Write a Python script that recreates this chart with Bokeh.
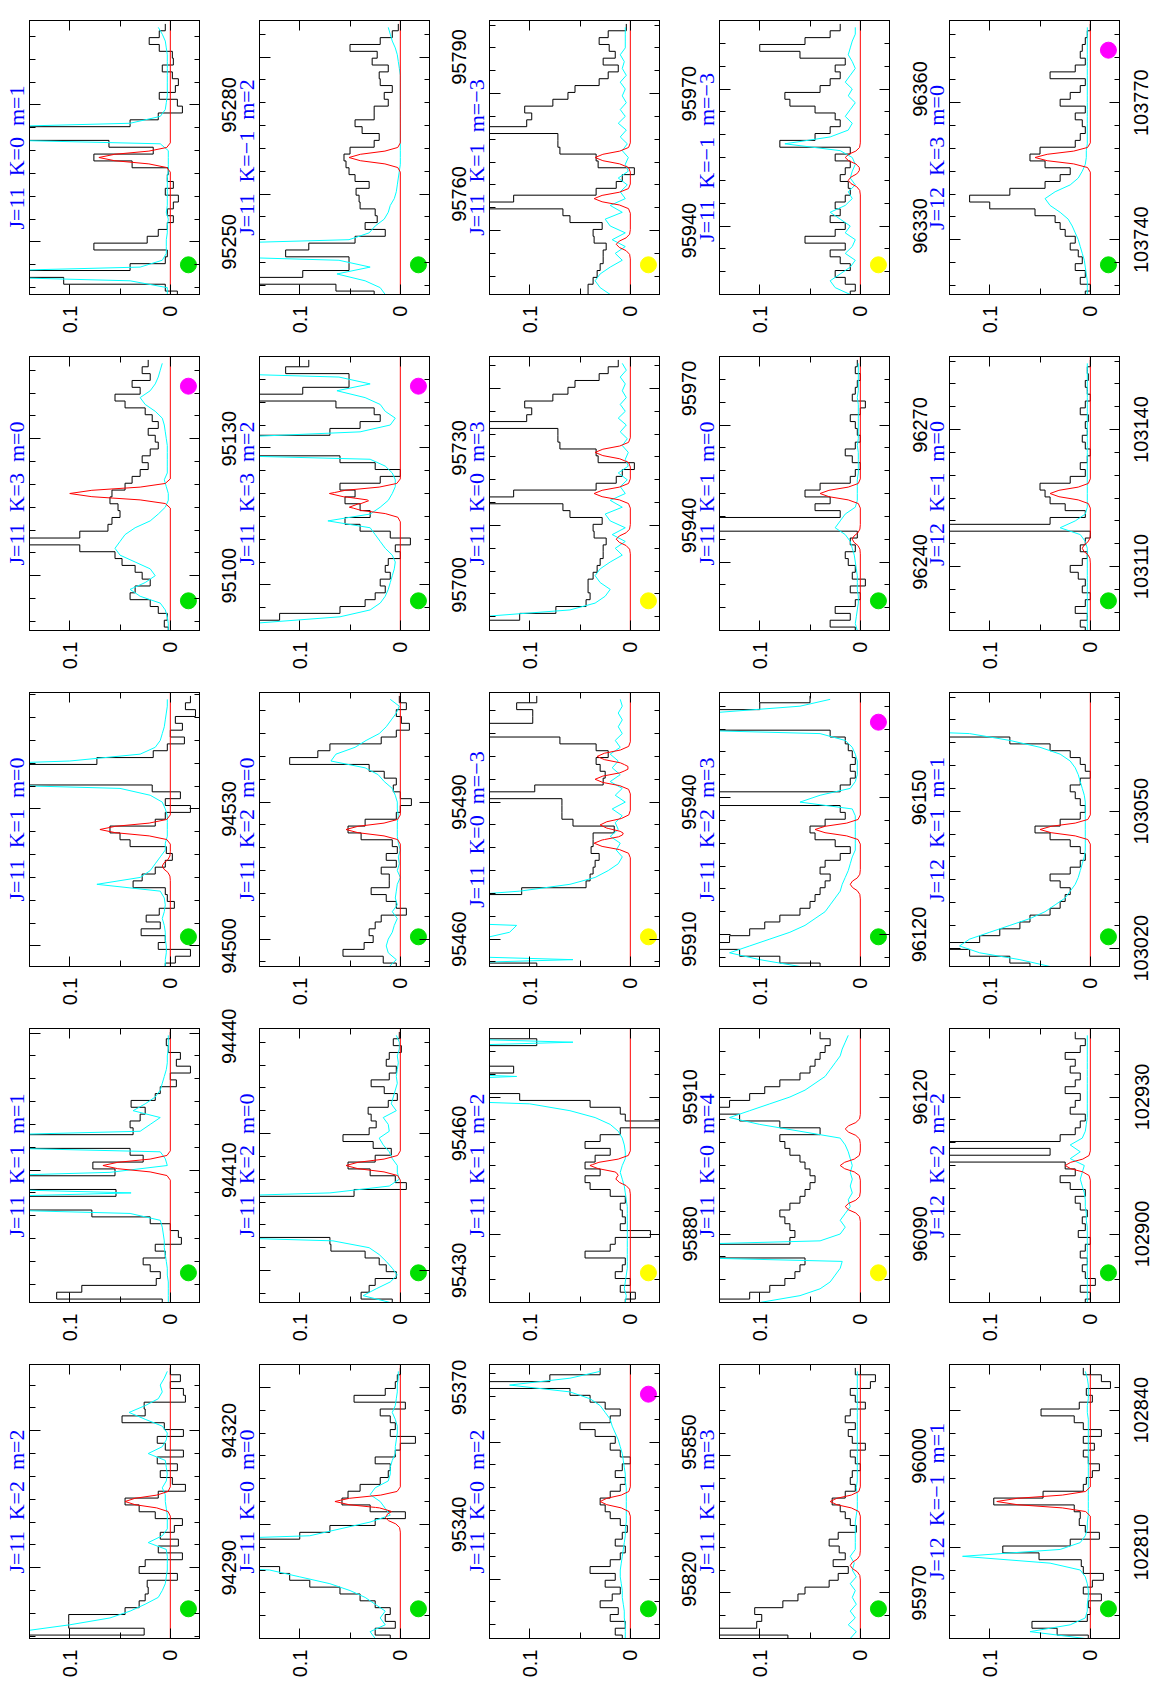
import math
import numpy as np
from bokeh.plotting import figure
from bokeh.models import Range1d, LinearAxis, FixedTicker, Title, NumeralTickFormatter
from bokeh.layouts import row, column
from bokeh.embed import file_html
from bokeh.resources import INLINE

# ---------------------------------------------------------------- data
CHANNEL_MHZ = 1.5      # spectral channel width
SCALE = 0.001          # intensities below are listed in units of 0.001
NB = "\u00a0"

# rows top -> bottom, columns left -> right
panel_labels = [
    ["J=11 K=0 m=1", "J=11 K=\u22121 m=2", "J=11 K=1 m=\u22123", "J=11 K=\u22121 m=\u22123", "J=12 K=3 m=0"],
    ["J=11 K=3 m=0", "J=11 K=3 m=2", "J=11 K=0 m=3", "J=11 K=1 m=0", "J=12 K=1 m=0"],
    ["J=11 K=1 m=0", "J=11 K=2 m=0", "J=11 K=0 m=\u22123", "J=11 K=2 m=3", "J=12 K=1 m=1"],
    ["J=11 K=1 m=1", "J=11 K=2 m=0", "J=11 K=1 m=2", "J=11 K=0 m=4", "J=12 K=2 m=2"],
    ["J=11 K=2 m=2", "J=11 K=0 m=0", "J=11 K=0 m=2", "J=11 K=1 m=3", "J=12 K=\u22121 m=1"],
]
centre_freq = [
    [95268.5, 95768.0, 95956.0, 96345.0, 103758.0],
    [95118.0, 95720.0, 95947.0, 96255.0, 103126.0],
    [94525.5, 95484.0, 95934.0, 96143.0, 103046.0],
    [94411.0, 95453.0, 95895.0, 96105.0, 102915.0],
    [94304.5, 95345.0, 95837.0, 95990.0, 102820.0],
]
freq_tick_labels = [
    [(95250, 95280), (95760, 95790), (95940, 95970), (96330, 96360), (103740, 103770)],
    [(95100, 95130), (95700, 95730), (95940, 95970), (96240, 96270), (103110, 103140)],
    [(94500, 94530), (95460, 95490), (95910, 95940), (96120, 96150), (103020, 103050)],
    [(94410, 94440), (95430, 95460), (95880, 95910), (96090, 96120), (102900, 102930)],
    [(94290, 94320), (95340, 95370), (95820, 95850), (95970, 96000), (102810, 102840)],
]
intensity_ticks = [0.0, 0.1]
intensity_minor = [0.05]

bottom_dot = [
    ["#00e000", "#00e000", "#ffff00", "#ffff00", "#00e000"],
    ["#00e000", "#00e000", "#ffff00", "#00e000", "#00e000"],
    ["#00e000", "#00e000", "#ffff00", "#00e000", "#00e000"],
    ["#00e000", "#00e000", "#ffff00", "#ffff00", "#00e000"],
    ["#00e000", "#00e000", "#00e000", "#00e000", "#00e000"],
]
top_dot = [
    [None, None, None, None, "#ff00ff"],
    ["#ff00ff", "#ff00ff", None, None, None],
    [None, None, None, "#ff00ff", None],
    [None, None, None, None, None],
    [None, None, "#ff00ff", None, None],
]

# normalised shape of a model line (offset in MHz, relative height)
red_shape_offset = [-3.2, -2.2, -1.4, -0.7, 0.0, 0.7, 1.4, 2.2, 3.2]
red_shape_value = [0.0, 0.05, 0.3, 0.78, 1.0, 0.78, 0.3, 0.05, 0.0]

# observed spectra (black), 40 channels from low to high frequency
obs_r1c1 = [-7, 5, 106, 300, 40, 5, 3, 76, 23, 12, 3, -3, 3, -3, -8, 5, -3, 3, 2, 38,
            76, 17, 61, 300, 300, 40, 12, -12, -7, 11, -5, -8, -2, 8, -3, -2, 11, 21, 11, 5]
obs_r2c1 = [2, 6, 3, 12, 20, 40, 35, 20, 28, 35, 48, 55, 90, 300, 90, 62, 58, 50, 52, 60,
            58, 45, 38, 30, 22, 28, 20, 12, 15, 22, 12, 18, 25, 45, 55, 30, 38, 20, 28, 22]
obs_r3c1 = [5, -5, -20, 12, 5, 29, 10, 24, 11, -4, 3, 5, 37, 28, 15, 5, -2, 4, 40, 50,
            60, 15, 5, -20, 5, -10, 18, 300, 300, 300, 73, 17, 3, -14, 0, -12, -5, -25, -15, -20]
obs_r4c1 = [8, 113, 88, 14, 10, 20, 27, 5, 15, -11, -8, 0, 20, 78, 300, 300, 54, 300, 300, 55,
            77, 27, 40, 300, 300, 37, 40, 30, 25, 39, 15, 10, -6, 0, -20, -6, -10, 2, 4, 0]
obs_r5c1 = [300, 26, 101, 101, 45, 31, 25, 22, 23, -7, 31, 25, -12, 12, -8, 10, -4, -12, 15, 31,
            45, 12, -15, -2, 10, -7, 13, -13, 5, 13, -13, 6, 48, 25, 26, -15, -13, 0, -10, 0]
obs_r1c2 = [26, 64, 300, 97, 51, 51, 114, 91, 45, 15, 35, 23, 25, 40, 41, 44, 31, 45, 51, 54,
            56, 50, 26, 21, 38, 45, 26, 26, 12, 16, 8, 20, 21, 12, 28, 23, 50, 20, 8, 2]
obs_r2c2 = [300, 300, 120, 60, 35, 25, 15, 20, 10, 15, 12, 0, 5, -10, 10, 40, 55, 30, 40, 55,
            45, 60, 20, 0, 25, 60, 300, 300, 300, 70, 40, 20, 26, 64, 300, 97, 51, 51, 114, 91]
obs_r3c2 = [4, 17, 57, 36, 27, 31, 25, 19, -6, 4, 14, 29, 11, 11, 19, 4, 14, 3, 8, 39,
            52, 35, 4, 0, -11, 0, 7, 4, 16, 31, 110, 82, 70, 19, 4, -9, -1, 4, -6, 1]
obs_r4c2 = [8, 39, 31, 25, 4, 14, 21, 35, 69, 70, 300, 300, 300, 300, 300, 300, 46, -6, 5, 30,
            52, 25, 9, 27, 57, 31, 24, 29, 32, 12, 3, 16, 29, 11, 4, 14, 11, -1, 7, 1]
obs_r5c2 = [10, 25, 5, 15, 10, 25, 40, 60, 90, 110, 120, 300, 300, 300, 300, 100, 70, 25, -5, 30,
            58, 52, 40, 20, 12, 10, 25, 5, 0, -15, 10, 5, 10, 20, -5, 46, 15, 5, 3, 0]
obs_r1c3 = [42, 42, 37, 33, 30, 27, 27, 24, 36, 37, 28, 60, 67, 300, 116, 34, 14, 8, -4, 32,
            34, 70, 72, 72, 300, 103, 98, 105, 77, 62, 55, 31, 22, 12, 27, 15, 21, 31, 22, 4]
obs_r2c3 = [300, 300, 110, 74, 44, 40, 42, 42, 37, 33, 30, 27, 27, 24, 36, 37, 28, 60, 67, 300,
            116, 34, 14, 8, -4, 32, 34, 70, 72, 72, 300, 103, 98, 105, 77, 62, 55, 31, 22, 12]
obs_r3c3 = [93, 300, 300, 300, 300, 300, 300, 300, 300, 300, 300, 108, 44, 40, 37, 35, 31, 39, 37, 37,
            16, 57, 68, 68, 68, 300, 95, 27, 25, 30, 34, 22, 34, 70, 300, 300, 97, 97, 113, 93]
obs_r4c3 = [5, -5, 10, 0, 15, 8, 5, 45, 20, 15, -20, 10, 5, 8, 10, 5, 20, 40, 45, 30,
            45, 35, 20, 45, 30, 10, -30, 5, 10, 40, 110, 300, 300, 300, 116, 300, 300, 300, 93, 300]
obs_r5c3 = [8, 15, 5, 20, 12, 30, 18, 10, 25, 15, 40, 20, 10, 5, 15, 8, 3, 10, 20, 25,
            30, 20, 10, 5, 15, 8, 0, 10, 20, 15, 35, 50, 20, 10, 25, 40, 60, 300, 80, 30]
obs_r1c4 = [10, 5, 15, 25, 10, 20, 30, 15, 55, 25, 15, 30, 20, 25, 15, 10, 12, 20, 15, 10,
            25, 10, 80, 45, 30, 20, 25, 45, 70, 75, 40, 30, 20, 25, 15, 60, 100, 55, 30, 20]
obs_r2c4 = [5, 30, 10, 25, 5, 0, 10, -5, 8, 5, 12, 15, 5, 10, 3, 300, 300, 20, 45, 30,
            55, 40, 10, 5, 0, 8, 15, 5, 0, 3, 5, 10, 0, -5, 8, 5, 3, 0, 5, 3]
obs_r3c4 = [40, 80, 120, 140, 130, 110, 95, 80, 60, 50, 45, 40, 35, 30, 40, 35, 20, 10, 25, 45,
            50, 35, 15, 20, 300, 300, 20, 10, 5, 10, 5, 8, 12, 15, 30, 300, 300, 200, 100, 50]
obs_r4c4 = [300, 110, 90, 75, 65, 60, 55, 300, 300, 70, 65, 70, 75, 80, 70, 60, 55, 50, 45, 50,
            55, 60, 70, 75, 80, 40, 80, 120, 140, 130, 110, 95, 80, 60, 50, 45, 40, 35, 30, 40]
obs_r5c4 = [72, 300, 103, 98, 105, 77, 62, 55, 31, 22, 12, 27, 15, 21, 31, 22, 4, 10, 15, 20,
            28, 15, 5, 10, 8, 0, 5, 10, -5, 8, 12, 5, 15, 10, -5, 5, 10, -10, -15, 5]
obs_r1c5 = [5, 0, 10, 5, 15, 8, 12, 20, 15, 25, 30, 35, 55, 100, 120, 80, 45, 30, 20, 45,
            60, 50, 15, 10, 5, 8, 15, 5, 30, 20, 10, 5, 40, 15, 5, 10, 8, 5, 3, 0]
obs_r2c5 = [5, 10, 3, 15, 5, 0, 8, 5, 12, 20, 8, 3, 10, 5, 0, 300, 40, 5, 25, 40,
            45, 50, 20, 5, 10, 3, 0, 5, 8, 3, 5, 2, 10, 5, 0, 3, 5, 2, 3, 0]
obs_r3c5 = [60, 80, 120, 140, 110, 90, 70, 60, 40, 30, 25, 20, 30, 40, 20, 10, 5, 10, 20, 40,
            55, 30, 10, 5, 10, 15, 20, 10, 0, 5, 10, 20, 40, 80, 300, 300, 300, 300, 300, 300]
obs_r4c5 = [5, 0, 10, -5, 5, 8, 3, 10, 5, 0, 12, 5, 8, 3, 10, 15, 5, 20, 30, 15,
            25, 300, 40, 300, 30, 15, 10, 5, 20, 15, 10, 25, 15, 10, 20, 15, 25, 10, 5, 15]
obs_r5c5 = [2, 33, 58, 3, 0, 2, -11, 7, -2, -13, 7, 9, 51, 87, 20, -9, 5, 11, 10, 16,
            96, 47, 7, 4, -2, -9, 2, 7, -4, 7, -11, 7, 16, 49, 11, -2, 4, -20, -11, 7]

# full model (cyan), same channels
mod_r1c1 = [3, 3, 40, 300, 30, 8, 4, 4, 4, 3, 3, 2, 4, 3, 3, 3, 3, 3, 2, 2,
            2, 2, 10, 300, 300, 40, 10, 5, 4, 3, 3, 3, 3, 3, 3, 3, 4, 5, 8, 12]
mod_r2c1 = [2, 2, 3, 5, 10, 30, 40, 25, 15, 20, 35, 50, 55, 50, 45, 35, 20, 12, 5, 2,
            2, 4, 6, 3, 3, 3, 3, 3, 4, 5, 6, 8, 15, 25, 30, 20, 15, 12, 10, 8]
mod_r3c1 = [5, 5, 4, 4, 5, 5, 6, 8, 6, 5, 6, 10, 73, 30, 20, 15, 10, 5, 5, 3,
            3, 3, 3, 5, 8, 20, 50, 300, 300, 300, 100, 30, 15, 10, 8, 6, 5, 4, 3, 3]
mod_r4c1 = [2, 2, 2, 2, 3, 3, 4, 5, 6, 6, 7, 8, 10, 40, 300, 300, 39, 300, 300, 60,
            3, 5, 10, 300, 300, 30, 20, 10, 37, 25, 15, 10, 8, 6, 4, 3, 3, 2, 2, 2]
mod_r5c1 = [300, 150, 100, 60, 40, 25, 12, 8, 5, 4, 3, 3, 3, 4, 22, 8, 3, 3, 3, 4,
            5, 5, 8, 4, 3, 4, 5, 22, 8, 4, 3, 8, 25, 41, 25, 12, 8, 10, 6, 3]
mod_r1c2 = [15, 20, 35, 63, 30, 61, 300, 300, 51, 31, 25, 16, 12, 10, 6, 4, 3, 2, 1, 0,
            0, 0, 0, 0, 0, 0, 0, 0, 0, 0, 0, 0, 0, 1, 2, 3, 5, 8, 10, 12]
mod_r2c2 = [300, 150, 60, 30, 20, 15, 12, 10, 8, 6, 5, 8, 15, 20, 25, 30, 72, 30, 20, 12,
            8, 5, 5, 8, 15, 30, 300, 300, 200, 40, 10, 5, 15, 20, 35, 63, 30, 61, 300, 300]
mod_r3c2 = [11, 4, 12, 14, 12, 8, 6, 3, 8, 3, 5, 4, 3, 0, 3, 1, 2, 0, 2, 3,
            3, 3, 2, 3, 3, 5, 8, 16, 22, 35, 69, 64, 45, 34, 21, 14, 9, 4, 1, 10]
mod_r4c2 = [10, 37, 24, 10, 3, 8, 14, 21, 31, 67, 300, 300, 300, 300, 300, 300, 70, 11, 1, 3,
            3, 8, 11, 17, 21, 11, 12, 17, 4, 9, 7, 5, 3, 4, 3, 2, 3, 1, 1, 4]
mod_r5c2 = [25, 30, 15, 20, 15, 25, 35, 50, 70, 100, 130, 300, 300, 300, 300, 90, 60, 30, 10, 15,
            20, 30, 25, 12, 10, 10, 8, 5, 5, 4, 3, 3, 5, 8, 5, 4, 3, 3, 2, 2]
mod_r1c3 = [20, 30, 35, 30, 20, 8, 15, 5, 18, 5, 20, 25, 8, 20, 5, 10, 3, 12, 2, 5,
            2, 8, 3, 10, 4, 12, 5, 10, 4, 8, 5, 10, 4, 8, 6, 10, 5, 5, 5, 5]
mod_r2c3 = [300, 300, 150, 60, 35, 25, 20, 30, 35, 30, 20, 8, 15, 5, 18, 5, 20, 25, 8, 20,
            5, 10, 3, 12, 2, 5, 2, 8, 3, 10, 4, 12, 5, 10, 4, 8, 5, 10, 4, 8]
mod_r3c3 = [300, 57, 300, 300, 150, 120, 113, 300, 300, 300, 200, 110, 60, 35, 22, 12, 8, 14, 10, 20,
            12, 15, 8, 18, 5, 15, 8, 20, 10, 18, 12, 20, 10, 15, 8, 12, 8, 12, 8, 10]
mod_r4c3 = [5, 4, 6, 5, 4, 3, 3, 3, 3, 3, 3, 3, 3, 3, 3, 4, 5, 6, 8, 10,
            8, 5, 5, 6, 8, 12, 20, 35, 60, 100, 300, 300, 300, 113, 300, 300, 300, 300, 57, 300]
mod_r5c3 = [5, 5, 5, 6, 6, 7, 8, 8, 9, 10, 10, 9, 8, 7, 6, 5, 5, 4, 4, 4,
            4, 4, 4, 5, 5, 6, 7, 8, 10, 12, 15, 18, 20, 25, 30, 40, 60, 120, 60, 30]
mod_r1c4 = [10, 25, 30, 20, 10, 5, 15, 8, 5, 15, 10, 20, 30, 15, 8, 12, 5, 10, 8, 5,
            8, 20, 75, 30, 12, 8, 15, 10, 5, 12, 8, 15, 10, 5, 8, 12, 10, 8, 5, 5]
mod_r2c4 = [3, 5, 4, 3, 2, 2, 3, 3, 3, 4, 5, 6, 8, 10, 15, 25, 20, 15, 5, 3,
            3, 3, 3, 2, 2, 2, 2, 3, 2, 2, 2, 2, 2, 2, 3, 2, 2, 2, 2, 2]
mod_r3c4 = [60, 100, 130, 110, 90, 70, 55, 45, 35, 30, 25, 20, 18, 15, 12, 10, 8, 5, 5, 5,
            5, 5, 5, 8, 60, 40, 10, 5, 3, 3, 3, 5, 8, 15, 40, 300, 300, 150, 60, 30]
mod_r4c4 = [100, 60, 40, 30, 25, 20, 18, 300, 300, 40, 20, 15, 20, 15, 10, 12, 8, 10, 8, 10,
            8, 10, 12, 15, 20, 60, 100, 130, 110, 90, 70, 55, 45, 35, 30, 25, 20, 18, 15, 12]
mod_r5c4 = [10, 4, 12, 5, 10, 4, 8, 5, 10, 4, 8, 6, 10, 5, 5, 5, 5, 5, 4, 3,
            3, 3, 4, 3, 3, 3, 3, 3, 3, 3, 3, 3, 3, 3, 3, 3, 3, 3, 3, 3]
mod_r1c5 = [3, 3, 3, 4, 5, 6, 8, 10, 12, 15, 18, 22, 30, 40, 45, 35, 20, 12, 8, 5,
            4, 4, 3, 3, 3, 3, 3, 3, 3, 3, 3, 3, 3, 3, 3, 3, 3, 3, 3, 3]
mod_r2c5 = [3, 3, 3, 3, 3, 3, 3, 3, 3, 3, 3, 3, 3, 5, 10, 30, 15, 5, 3, 3,
            3, 3, 3, 3, 3, 3, 3, 3, 3, 3, 3, 3, 3, 3, 3, 3, 3, 3, 3, 3]
mod_r3c5 = [40, 70, 110, 130, 120, 100, 80, 60, 45, 35, 25, 20, 15, 12, 10, 8, 6, 5, 5, 5,
            5, 5, 5, 5, 5, 6, 8, 10, 12, 15, 20, 30, 50, 80, 120, 300, 300, 300, 300, 300]
mod_r4c5 = [3, 3, 3, 3, 3, 3, 3, 3, 3, 3, 3, 3, 4, 4, 5, 5, 6, 8, 10, 8,
            6, 20, 10, 20, 8, 5, 4, 3, 3, 3, 3, 3, 3, 3, 3, 3, 3, 3, 3, 3]
mod_r5c5 = [5, 60, 20, 5, 3, 3, 2, 2, 3, 5, 10, 40, 127, 30, 10, 5, 3, 3, 2, 2,
            2, 2, 2, 2, 2, 2, 2, 2, 2, 2, 2, 2, 2, 3, 3, 2, 2, 2, 3, 5]

# fitted lines (red): (offset from panel centre in MHz, peak in units of 0.001)
red_r1c1 = [(0, 71)]
red_r2c1 = [(0, 100)]
red_r3c1 = [(0, 70), (-8, 8)]
red_r4c1 = [(0, 67)]
red_r5c1 = [(0, 45)]
red_r1c2 = [(0, 51)]
red_r2c2 = [(0, 70), (-3, 50)]
red_r3c2 = [(0, 54)]
red_r4c2 = [(0, 54)]
red_r5c2 = [(0, 65), (-3.5, 15)]
red_r1c3 = [(-19, 14), (-9, 36), (0, 35)]
red_r2c3 = [(-10, 14), (0, 36), (9, 35)]
red_r3c3 = [(-3, 36), (1, 30), (11, 35), (16, 33)]
red_r4c3 = [(0, 40), (-3, 14)]
red_r5c3 = [(0, 30)]
red_r1c4 = [(-5, 12), (0, 15)]
red_r2c4 = [(0, 40), (-10, 8)]
red_r3c4 = [(0, 45), (-12, 10)]
red_r4c4 = [(0, 20), (-9, 15), (8, 15)]
red_r5c4 = [(0, 30), (-14, 10)]
red_r1c5 = [(0, 55)]
red_r2c5 = [(0, 40), (-12, 8)]
red_r3c5 = [(0, 50)]
red_r4c5 = [(0, 25)]
red_r5c5 = [(0, 93)]

OBS = [[obs_r1c1, obs_r1c2, obs_r1c3, obs_r1c4, obs_r1c5],
       [obs_r2c1, obs_r2c2, obs_r2c3, obs_r2c4, obs_r2c5],
       [obs_r3c1, obs_r3c2, obs_r3c3, obs_r3c4, obs_r3c5],
       [obs_r4c1, obs_r4c2, obs_r4c3, obs_r4c4, obs_r4c5],
       [obs_r5c1, obs_r5c2, obs_r5c3, obs_r5c4, obs_r5c5]]
MOD = [[mod_r1c1, mod_r1c2, mod_r1c3, mod_r1c4, mod_r1c5],
       [mod_r2c1, mod_r2c2, mod_r2c3, mod_r2c4, mod_r2c5],
       [mod_r3c1, mod_r3c2, mod_r3c3, mod_r3c4, mod_r3c5],
       [mod_r4c1, mod_r4c2, mod_r4c3, mod_r4c4, mod_r4c5],
       [mod_r5c1, mod_r5c2, mod_r5c3, mod_r5c4, mod_r5c5]]
RED = [[red_r1c1, red_r1c2, red_r1c3, red_r1c4, red_r1c5],
       [red_r2c1, red_r2c2, red_r2c3, red_r2c4, red_r2c5],
       [red_r3c1, red_r3c2, red_r3c3, red_r3c4, red_r3c5],
       [red_r4c1, red_r4c2, red_r4c3, red_r4c4, red_r4c5],
       [red_r5c1, red_r5c2, red_r5c3, red_r5c4, red_r5c5]]

# ---------------------------------------------------------------- drawing
TICK_FONT = "Liberation Sans"
LABEL_FONT = "Liberation Serif"
FRAME_W, FRAME_H = 171, 277
ROW_H = 336
BORDER_TOP, BORDER_BOTTOM = 20, 39
HOST_W = 33


def tick_only_axis(ax, positions, length):
    """Axis drawing inward ticks only (positions passed as minor ticks -> no labels)."""
    ax.ticker = FixedTicker(ticks=[], minor_ticks=list(positions))
    ax.axis_line_color = "black"
    ax.axis_line_width = 1
    ax.major_tick_line_color = None
    ax.minor_tick_line_color = "black"
    ax.minor_tick_in = length
    ax.minor_tick_out = 0
    ax.major_tick_in = 0
    ax.major_tick_out = 0
    ax.major_label_standoff = 0


def freq_label_axis(r, c, range_name, standoff):
    """Left-side axis carrying the frequency labels of panel (r, c), reading bottom-to-top."""
    ax = LinearAxis(y_range_name=range_name)
    ax.ticker = FixedTicker(ticks=list(freq_tick_labels[r][c]))
    ax.formatter = NumeralTickFormatter(format="0")
    ax.major_label_orientation = "parallel"
    ax.axis_line_color = None
    ax.major_tick_line_color = None
    ax.minor_tick_line_color = None
    ax.major_tick_in = 0
    ax.major_tick_out = 0
    ax.minor_tick_in = 0
    ax.minor_tick_out = 0
    ax.major_label_standoff = standoff
    ax.major_label_text_font = TICK_FONT
    ax.major_label_text_font_size = "20px"
    ax.major_label_text_color = "black"
    return ax


def build_panel(r, c):
    fc = centre_freq[r][c]
    lo, hi = fc - 30.0, fc + 30.0
    left_border = 29 if c == 0 else 59
    p = figure(width=left_border + FRAME_W, height=ROW_H,
               x_range=Range1d(0.14, -0.03), y_range=Range1d(lo, hi),
               x_axis_location="below", y_axis_location="right",
               output_backend="svg", toolbar_location=None, tools="",
               min_border_left=left_border, min_border_right=0,
               min_border_top=BORDER_TOP, min_border_bottom=BORDER_BOTTOM)
    p.xgrid.visible = False
    p.ygrid.visible = False
    p.outline_line_color = "black"
    p.outline_line_width = 1
    p.background_fill_color = "white"
    p.border_fill_color = "white"

    minor_f = list(range(int(math.ceil(lo / 5.0)) * 5, int(math.floor(hi)) + 1, 5))
    major_f = list(freq_tick_labels[r][c])

    # bottom: labelled intensity axis
    bx = p.xaxis[0]
    bx.ticker = FixedTicker(ticks=intensity_ticks, minor_ticks=intensity_minor)
    bx.formatter = NumeralTickFormatter(format="0.[0]")
    bx.axis_line_color = "black"
    bx.major_tick_line_color = "black"
    bx.minor_tick_line_color = "black"
    bx.major_tick_in = 10
    bx.major_tick_out = 0
    bx.minor_tick_in = 6
    bx.minor_tick_out = 0
    bx.major_label_orientation = math.pi / 2
    bx.major_label_text_font = TICK_FONT
    bx.major_label_text_font_size = "20px"
    bx.major_label_text_color = "black"
    bx.major_label_standoff = 11

    # right edge: frequency ticks (their labels are carried by the next figure)
    tick_only_axis(p.yaxis[0], major_f, 11)
    ax = LinearAxis()
    tick_only_axis(ax, minor_f, 6)
    p.add_layout(ax, "right")

    # mirrored ticks on the top and left edges
    for positions, length in ((intensity_ticks, 10), (intensity_minor, 6)):
        ax = LinearAxis()
        tick_only_axis(ax, positions, length)
        p.add_layout(ax, "above")
    for positions, length in ((major_f, 11), (minor_f, 6)):
        ax = LinearAxis()
        tick_only_axis(ax, positions, length)
        p.add_layout(ax, "left")

    title = Title(text=panel_labels[r][c].replace(" ", " " + NB), align="center",
                  text_color="#0000ff", text_font=LABEL_FONT, text_font_size="22px",
                  text_font_style="normal", standoff=2)
    p.add_layout(title, "left")

    # frequency labels of the panel to the left, placed in this figure's left margin
    if c > 0:
        pc = centre_freq[r][c - 1]
        p.extra_y_ranges = {"prev": Range1d(pc - 30.0, pc + 30.0)}
        p.add_layout(freq_label_axis(r, c - 1, "prev", -6), "left")

    # observed spectrum as histogram steps along the (vertical) frequency axis
    vals = OBS[r][c]
    xs, ys = [], []
    for i, v in enumerate(vals):
        f0 = fc + CHANNEL_MHZ * (i - 20)
        xs += [v * SCALE, v * SCALE]
        ys += [f0 - CHANNEL_MHZ / 2, f0 + CHANNEL_MHZ / 2]
    p.line(xs, ys, line_color="black", line_width=1)

    # model (cyan)
    centres = [fc + CHANNEL_MHZ * (i - 20) for i in range(len(MOD[r][c]))]
    p.line([m * SCALE for m in MOD[r][c]], centres, line_color="#00ffff", line_width=1)

    # fitted lines (red)
    verts = {lo - 1.0, hi + 1.0}
    for off, amp in RED[r][c]:
        for so in red_shape_offset:
            verts.add(fc + off + so)
    verts = sorted(verts)
    rx = []
    for f in verts:
        tot = 0.0
        for off, amp in RED[r][c]:
            tot += amp * SCALE * float(np.interp(f - (fc + off), red_shape_offset, red_shape_value,
                                                 left=0.0, right=0.0))
        rx.append(tot)
    p.line(rx, verts, line_color="#ff0000", line_width=1)

    # markers
    p.scatter([-0.018], [fc - 23.5], size=16, marker="circle",
              fill_color=bottom_dot[r][c], line_color=bottom_dot[r][c])
    if top_dot[r][c] is not None:
        p.scatter([-0.018], [fc + 23.5], size=16, marker="circle",
                  fill_color=top_dot[r][c], line_color=top_dot[r][c])
    return p


def build_label_host(r):
    """Narrow strip right of the last column that carries its frequency labels."""
    pc = centre_freq[r][4]
    p = figure(width=HOST_W, height=ROW_H, x_range=Range1d(0, 1),
               y_range=Range1d(pc - 30.0, pc + 30.0),
               x_axis_location=None, y_axis_location=None,
               output_backend="svg", toolbar_location=None, tools="",
               min_border_left=HOST_W - 1, min_border_right=0,
               min_border_top=BORDER_TOP, min_border_bottom=BORDER_BOTTOM)
    p.outline_line_color = None
    p.background_fill_color = "white"
    p.border_fill_color = "white"
    for g in p.grid:
        g.visible = False
    p.add_layout(freq_label_axis(r, 4, "default", 4), "left")
    return p


rows = []
for r in range(5):
    figs = [build_panel(r, c) for c in range(5)]
    figs.append(build_label_host(r))
    rows.append(row(*figs))
layout = column(*rows)

open("out.html", "w").write(file_html(layout, INLINE, title="spectra"))
